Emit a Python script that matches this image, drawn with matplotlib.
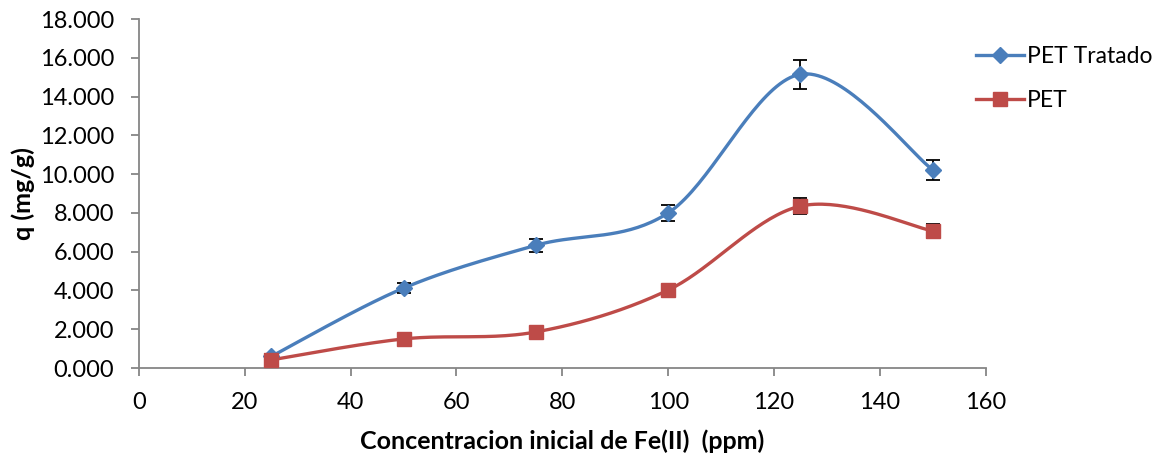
import numpy as np
import matplotlib
matplotlib.use("Agg")
import matplotlib.pyplot as plt
from matplotlib.ticker import FuncFormatter
from matplotlib.lines import Line2D

plt.rcParams['font.family'] = ['Lato', 'DejaVu Sans']

# Initial Fe(II) concentration (ppm) and uptake q (mg/g)
conc = [25, 50, 75, 100, 125, 150]
q_tratado = [0.60, 4.12, 6.33, 8.00, 15.15, 10.22]
err_tratado = [0.10, 0.25, 0.33, 0.40, 0.75, 0.50]
q_pet = [0.42, 1.50, 1.86, 4.02, 8.35, 7.07]
err_pet = [0.05, 0.10, 0.10, 0.12, 0.40, 0.35]

series_names = ["PET Tratado", "PET"]
xlabel = "Concentracion inicial de Fe(II)  (ppm)"
ylabel = "q (mg/g)"

BLUE = "#4A7EBB"
RED = "#BE4B48"
GRAY = "#868686"


def smooth(x, y, n=40):
    """Catmull-Rom style cubic Bezier smoothing through every point."""
    p = np.column_stack([x, y]).astype(float)
    ext = np.vstack([p[0], p, p[-1]])
    out = []
    t = np.linspace(0, 1, n)[:, None]
    for i in range(len(p) - 1):
        p0, p1, p2, p3 = ext[i], ext[i + 1], ext[i + 2], ext[i + 3]
        c1 = p1 + (p2 - p0) / 6.0
        c2 = p2 - (p3 - p1) / 6.0
        seg = ((1 - t) ** 3) * p1 + 3 * ((1 - t) ** 2) * t * c1 \
            + 3 * (1 - t) * t ** 2 * c2 + t ** 3 * p2
        out.append(seg if i == 0 else seg[1:])
    s = np.vstack(out)
    return s[:, 0], s[:, 1]


fig = plt.figure(figsize=(11.61, 4.57), dpi=100)
ax = fig.add_axes([0.1197, 0.1947, 0.7293, 0.7637])

for ys, es, col, mk, ms in [(q_tratado, err_tratado, BLUE, 'D', 8),
                            (q_pet, err_pet, RED, 's', 10)]:
    sx, sy = smooth(conc, ys)
    ax.plot(sx, sy, color=col, lw=2.4, solid_capstyle='round', zorder=2)
    ax.errorbar(conc, ys, yerr=es, fmt='none', ecolor='black',
                elinewidth=1.3, capsize=5, capthick=1.3, zorder=3)
    ax.plot(conc, ys, ls='none', marker=mk, ms=ms, color=col,
            mec=col, zorder=4)

ax.set_xlim(0, 160)
ax.set_ylim(0, 18)
ax.set_xticks(np.arange(0, 161, 20))
ax.set_yticks(np.arange(0, 18.1, 2))
ax.yaxis.set_major_formatter(FuncFormatter(lambda v, _: f"{v:.3f}"))

for side in ['top', 'right']:
    ax.spines[side].set_visible(False)
for side in ['left', 'bottom']:
    ax.spines[side].set_color(GRAY)
    ax.spines[side].set_linewidth(1.3)
ax.tick_params(axis='both', direction='out', length=6, width=1.3,
               color=GRAY, labelsize=17, labelcolor='black')
ax.tick_params(axis='y', pad=12)
ax.tick_params(axis='x', pad=11)

ax.set_xlabel(xlabel, fontsize=18, fontweight='bold', labelpad=12)
ax.set_ylabel(ylabel, fontsize=18, fontweight='bold', labelpad=3)

handles = [
    Line2D([], [], color=BLUE, lw=2.4, marker='D', ms=8),
    Line2D([], [], color=RED, lw=2.4, marker='s', ms=10),
]
fig.legend(handles, series_names, loc='upper left',
           bbox_to_anchor=(0.823, 0.945), frameon=False, fontsize=16.5,
           handlelength=2.1, handletextpad=0.1, labelspacing=1.0)

fig.savefig("out.png", dpi=100)
